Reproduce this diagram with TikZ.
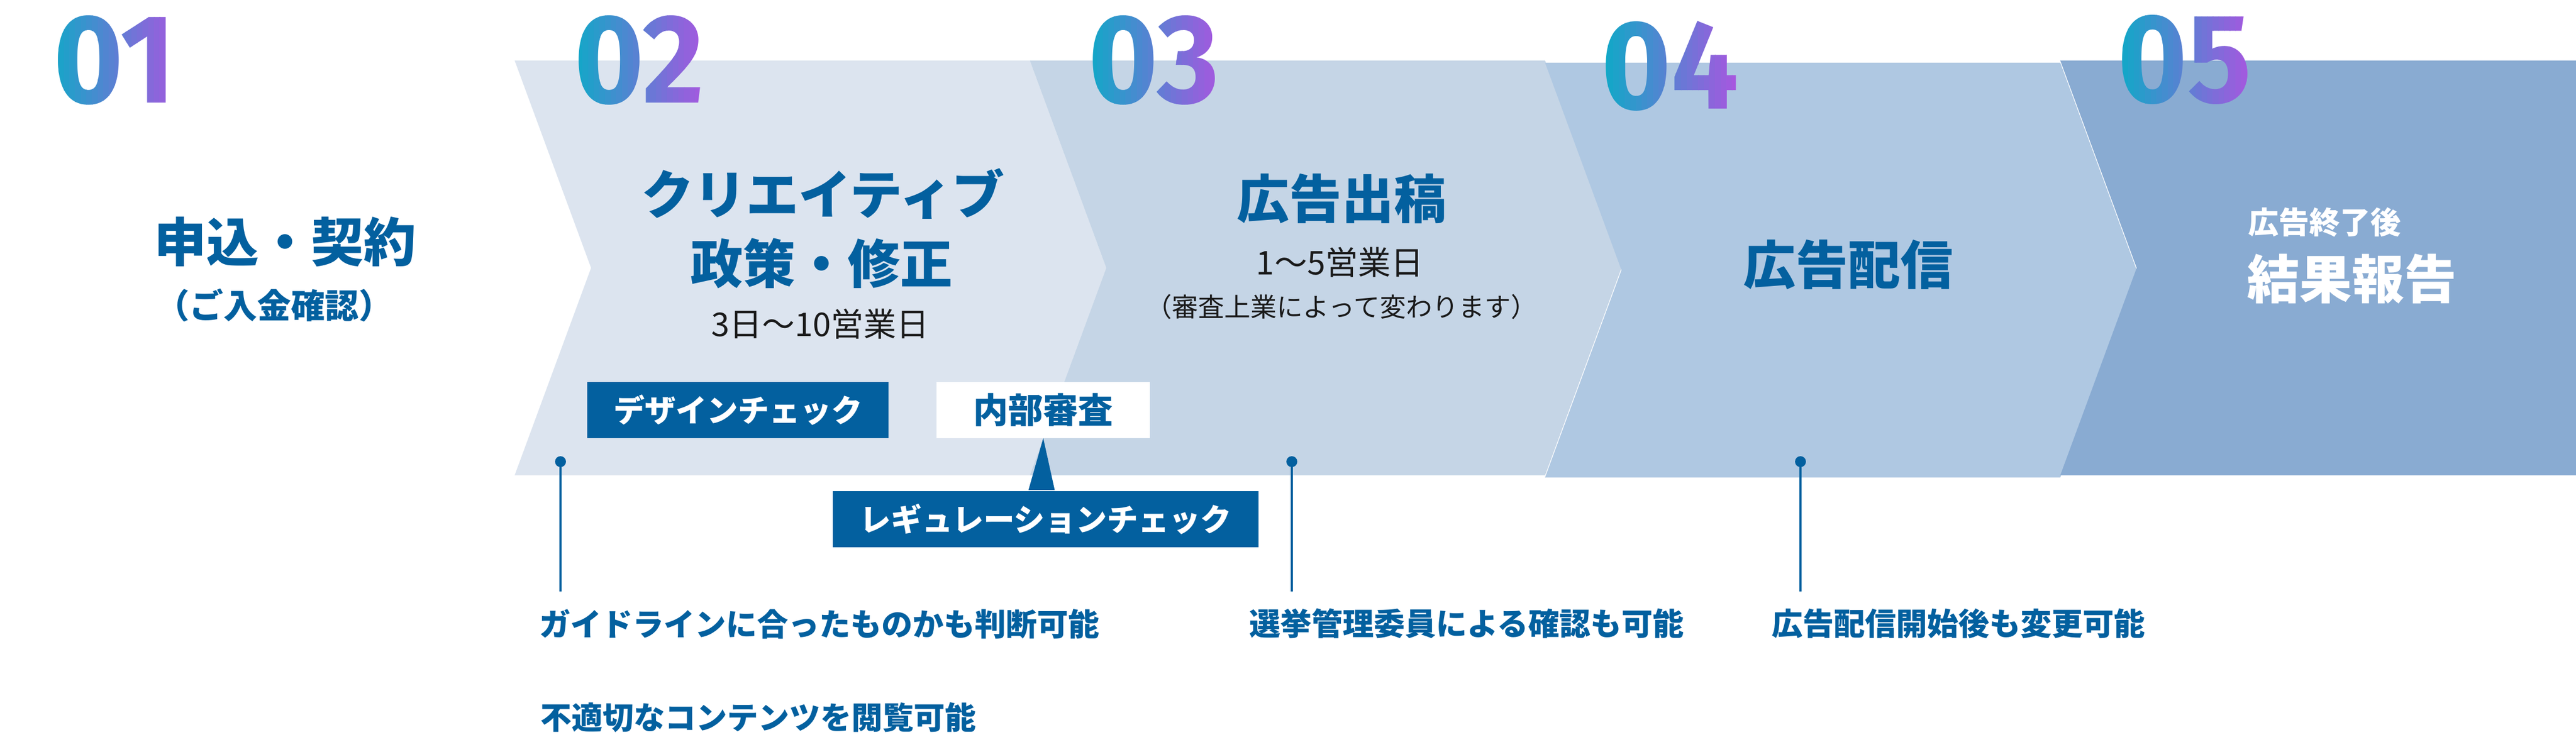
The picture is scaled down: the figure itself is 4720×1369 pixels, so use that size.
\documentclass[tikz,border=0pt]{standalone}
\usepackage{fontspec}
\setmainfont{Noto Sans CJK JP}
\newfontfamily\numfont{Fira Sans}[FakeStretch=0.94]
\usetikzlibrary{positioning,calc}

\definecolor{tagblue}{HTML}{03609F}
\definecolor{inkgray}{HTML}{1A1A1A}
\definecolor{panA}{HTML}{DCE4EF}
\definecolor{panB}{HTML}{C5D5E6}
\definecolor{panC}{HTML}{AFC8E2}
\definecolor{panD}{HTML}{89ABD2}
\definecolor{numA}{HTML}{10A9C7}
\definecolor{numB}{HTML}{A657DF}

\begin{document}
\begin{tikzpicture}[x=0.5pt, y=-0.5pt,
	every node/.style={inner sep=0pt, outer sep=0pt},
	num/.style={font=\numfont\bfseries\fontsize{116}{116}\selectfont},
	title/.style={text=tagblue, font=\bfseries\fontsize{48}{56}\selectfont},
	days/.style={text=inkgray, font=\fontsize{30}{36}\selectfont},
	tagbox/.style={fill=tagblue, text=white, minimum height=51.5pt, font=\bfseries\fontsize{28.5}{34}\selectfont},
	note/.style={text=tagblue, anchor=west, font=\bfseries\fontsize{28.5}{34}\selectfont},
	dot/.style={circle, fill=tagblue, minimum size=10pt},
	lead/.style={draw=tagblue, line width=2pt}]
\useasboundingbox (0,0) rectangle (4720,1369);
\def\w{944}
\def\d{140}

% chevrons
\foreach \i/\c/\dy in {0/panA/0, 1/panB/0, 2/panC/4}
	\fill [\c] ({943+\i*\w}, {111+\dy}) -- ++(\w,0) -- ++(\d,380) -- ++(-\d,380) -- ++(-\w,0) -- ++(\d,-380) -- cycle;
\fill [panD] (3775,111) -- (4720,111) -- (4720,871) -- (3775,871) -- (3915,491) -- cycle;

% step numbers, gradient in strips
\foreach \n/\x/\y in {01/210/110, 02/1171/110, 03/2114/110, 04/3060/121, 05/4003/109}{
	\foreach \s in {0,...,23}{
		\pgfmathsetmacro\p{100-\s*100/23}
		\begin{scope}
			\clip ({\x-124+\s*248/24},{\y-100}) rectangle ++(10.8,200);
			\node [num, text=numA!\p!numB] (num\n) at (\x,\y) {\n};
		\end{scope}
	}
}

% 01
\node [title] (apply) at (522,443) {申込・契約};
\node [title, font=\bfseries\fontsize{31}{36}\selectfont] (pay) at (502,559) {（ご入金確認）};

% 02
\node [title] (crea) at (1508,355) {クリエイティブ};
\node [title] (fix) at (1505,483) {政策・修正};
\node [days] (days2) at (1503,594) {3日〜10営業日};
\node [tagbox, minimum width=276pt] (design) at (1352,751.5) {デザインチェック};
\node [tagbox, minimum width=195.5pt, fill=white, text=tagblue, font=\bfseries\fontsize{32}{38}\selectfont, right=44pt of design] (inner) {内部審査};
\node [tagbox, minimum width=390pt] (regu) at (1916,951) {レギュレーションチェック};
\fill [tagblue] ($(inner.south)+(-27,95)$) -- (inner.south) -- ($(inner.south)+(21,95)$) -- cycle;

% 03
\node [title] (post) at (2458,364) {広告出稿};
\node [days] (days3) at (2455,481) {1〜5営業日};
\node [days, font=\fontsize{24}{30}\selectfont] (rule3) at (2458,562) {（審査上業によって変わります）};

% 04
\node [title] (deliv) at (3386,485) {広告配信};

% 05
\node [title, text=white, anchor=west, font=\bfseries\fontsize{28}{34}\selectfont] (after) at (4119,407) {広告終了後};
\node [title, text=white, anchor=west] (report) at (4117,511) {結果報告};

% lead lines
\foreach \k/\x in {1/1027, 2/2367, 3/3299}{
	\node [dot] (dot\k) at (\x,846) {};
	\coordinate (end\k) at (\x,1084);
	\draw [lead] (dot\k.center) -- (end\k);
}

\node [note] (note1) at (988,1144) {ガイドラインに合ったものかも判断可能};
\node [note] (note2) at (990,1315) {不適切なコンテンツを閲覧可能};
\node [note] (note3) at (2289,1143) {選挙管理委員による確認も可能};
\node [note] (note4) at (3246,1143) {広告配信開始後も変更可能};

\end{tikzpicture}
\end{document}
